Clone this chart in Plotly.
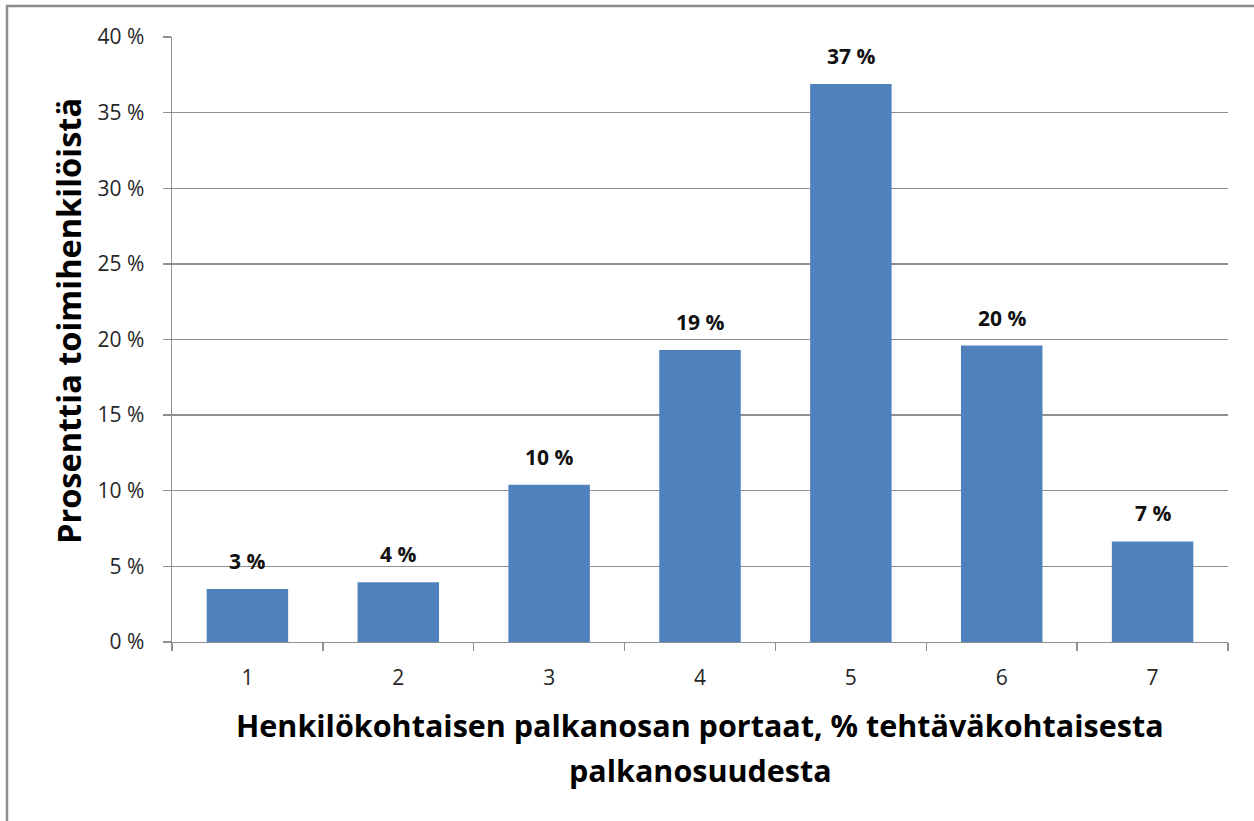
import plotly.graph_objects as go

categories = ["1", "2", "3", "4", "5", "6", "7"]
values = [3.5, 3.95, 10.4, 19.3, 36.9, 19.6, 6.65]
labels = ["3 %", "4 %", "10 %", "19 %", "37 %", "20 %", "7 %"]
y_ticks = [0, 5, 10, 15, 20, 25, 30, 35, 40]
y_tick_labels = ["0 %", "5 %", "10 %", "15 %", "20 %", "25 %", "30 %", "35 %", "40 %"]

FONT = "Open Sans"
GRID = "#8f8f8f"
TXT = "#262626"

fig = go.Figure()
fig.add_trace(go.Bar(
    x=list(range(len(categories))), y=values,
    marker=dict(color="#4F81BD", line=dict(width=0)),
    hoverinfo="skip",
))

for i, (v, t) in enumerate(zip(values, labels)):
    fig.add_annotation(x=i, y=v, text="<b>%s</b>" % t, showarrow=False,
                       yanchor="bottom", yshift=12,
                       font=dict(family=FONT, size=21, color="#111111"))

W, H = 1254, 821
L, T = 172, 37
R = W - 1228
B = H - 642
pw, ph = W - L - R, H - T - B

def px_x(x):
    return (x - L) / pw

def px_y(y):
    return (H - B - y) / ph

fig.add_shape(type="rect", xref="paper", yref="paper",
              x0=px_x(7), x1=1.3, y0=-0.6, y1=px_y(6),
              line=dict(color="#8c8c8c", width=2.5), fillcolor="rgba(0,0,0,0)")

fig.update_layout(
    width=W, height=H,
    margin=dict(l=L, r=R, t=T, b=B, autoexpand=False),
    paper_bgcolor="white", plot_bgcolor="white",
    bargap=0.46, showlegend=False,
    font=dict(family=FONT, color=TXT),
)
fig.update_xaxes(
    range=[-0.5, len(categories) - 0.5],
    tickvals=list(range(len(categories))), ticktext=categories,
    showgrid=False,
    showline=True, linecolor=GRID, linewidth=1.4,
    ticks="",
    tickfont=dict(family=FONT, size=21, color=TXT),
    ticklabelstandoff=16,
    minor=dict(tickvals=[i - 0.5 for i in range(len(categories) + 1)],
               ticks="outside", ticklen=8, tickcolor=GRID, tickwidth=1.4, showgrid=False),
)
fig.update_yaxes(
    range=[0, 40], tickvals=y_ticks, ticktext=y_tick_labels,
    showgrid=True, gridcolor=GRID, gridwidth=1.4,
    showline=True, linecolor=GRID, linewidth=1.4,
    ticks="outside", ticklen=8, tickcolor=GRID, tickwidth=1.4,
    tickfont=dict(family=FONT, size=21, color=TXT),
    ticklabelstandoff=14, zeroline=False,
)

fig.add_annotation(xref="paper", yref="paper",
                   x=0.5, y=px_y(725),
                   text="<b>Henkilökohtaisen palkanosan portaat, % tehtäväkohtaisesta</b>",
                   showarrow=False, xanchor="center", yanchor="middle",
                   font=dict(family=FONT, size=30.5, color="#000000"))
fig.add_annotation(xref="paper", yref="paper",
                   x=0.5, y=px_y(770),
                   text="<b>palkanosuudesta</b>",
                   showarrow=False, xanchor="center", yanchor="middle",
                   font=dict(family=FONT, size=30.5, color="#000000"))
fig.add_annotation(xref="paper", yref="paper",
                   x=px_x(68), y=px_y(321),
                   text="<b>Prosenttia toimihenkilöistä</b>", textangle=-90,
                   showarrow=False, xanchor="center", yanchor="middle",
                   font=dict(family=FONT, size=32.5, color="#000000"))

fig.write_html("out.html",
               config={"displayModeBar": False, "staticPlot": True},
               post_script="document.body.style.margin='0';document.body.style.overflow='hidden';")
